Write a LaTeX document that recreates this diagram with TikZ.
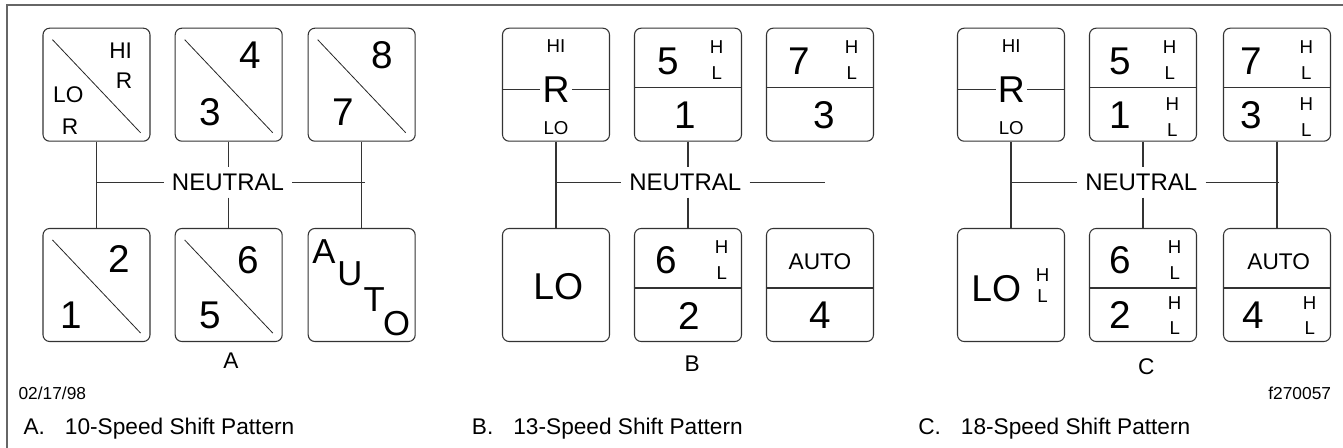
\documentclass[tikz,border=0pt]{standalone}
\usepackage{fontspec}
\setmainfont{Liberation Sans}
\usetikzlibrary{calc}

\begin{document}
\begin{tikzpicture}[x=0.75pt, y=-0.75pt,
    every node/.style={inner sep=0pt, text=black},
    frame/.style={draw=black!60, line width=1.6pt},
    key/.style={rectangle, draw=black!80, rounded corners=5pt, line width=0.8pt,
                minimum width=80.25pt, minimum height=84.75pt},
    wire/.style={draw=black!80, line width=0.8pt},
    slash/.style={draw=black!85, line width=0.6pt},
    num/.style={font=\fontsize{29}{29}\selectfont},
    big/.style={font=\fontsize{28}{28}\selectfont},
    mid/.style={font=\fontsize{17}{17}\selectfont},
    small/.style={font=\fontsize{14}{14}\selectfont},
    hl/.style={font=\fontsize{14}{14}\selectfont},
    auto/.style={font=\fontsize{26}{26}\selectfont},
    neutral/.style={font=\fontsize{18}{18}\selectfont, inner xsep=6pt, inner ysep=5pt},
    panel/.style={font=\fontsize{17}{17}\selectfont},
    note/.style={font=\fontsize{13}{13}\selectfont},
    caption/.style={font=\fontsize{17}{17}\selectfont, anchor=base west},
]
\useasboundingbox (0,0) rectangle (1343,448);

% frame, top and left only
\draw[frame] (7,448) -- (7,5) -- (1343,5);

% shift knob positions: A = 10-speed, B = 13-speed, C = 18-speed
\foreach \n/\x/\y in {aT1/96.5/84.7, aT2/228.7/84.7, aT3/361.7/84.7,
                      aB1/96.5/285, aB2/228.7/285, aB3/361.7/285,
                      bT1/556/84.7, bT2/688/84.7, bT3/820/84.7,
                      bB1/556/285, bB2/688/285, bB3/820/285,
                      cT1/1011/84.7, cT2/1143/84.7, cT3/1277/84.7,
                      cB1/1011/285, cB2/1143/285, cB3/1277/285}{
    \node[key] (\n) at (\x,\y) {};
}

% split boxes
\foreach \n in {aT1, aT2, aT3, aB1, aB2}{
    \draw[slash] ([shift={(10,12)}]\n.north west) -- ([shift={(-10,-9)}]\n.south east);
}
\foreach \n in {bT2, bT3, bB2, bB3, cT2, cT3, cB2, cB3}{
    \draw[wire] ($(\n.west)+(0,3)$) -- ($(\n.east)+(0,3)$);
}

% --- A ---
\node[mid] (aHI) at (120.7,50.7) {HI};
\node[mid] (aRh) at (124,81) {R};
\node[mid] (aLO) at (68.3,94.3) {LO};
\node[mid] (aRl) at (70,126.7) {R};
\foreach \n/\x/\y/\t in {a4/250.7/55/4, a3/210/112.3/3, a8/382.3/55/8, a7/343.3/112.3/7,
                         a2/119.3/259.3/2, a1/71.7/315/1, a6/248.3/260/6, a5/210/315/5}{
    \node[num] (\n) at (\x,\y) {\t};
}
\foreach \n/\x/\y/\t in {autoA/324/251.7/A, autoU/350/273.3/U, autoT/374.3/300/T, autoO/396.7/323.3/O}{
    \node[auto] (\n) at (\x,\y) {\t};
}

\node[neutral] (nA) at (228,182.3) {NEUTRAL};
\draw[wire] (aT1.south) -- (aB1.north);
\draw[wire] (aT3.south) -- (aB3.north);
\draw[wire] (aT2.south) -- (aT2.south |- nA.north);
\draw[wire] (aB2.north |- nA.south) -- (aB2.north);
\draw[wire] (aT1.south |- nA) -- (nA.west);
\draw[wire] (nA.east) -- ($(aT3.south |- nA)+(3,0)$);

% --- B ---
\node[small] (bHI) at (556,45.7) {HI};
\node[big, inner xsep=1.5pt] (bR) at (556,89.3) {R};
\node[small] (bLO) at (556,128.3) {LO};
\draw[wire] (bT1.west |- bR) -- (bR.west);
\draw[wire] (bR.east) -- (bT1.east |- bR);
\foreach \n/\x/\y/\t in {b5/668.3/61.7/5, b1/685/115/1, b7/799.3/61.7/7, b3/824/115/3,
                         b6/666/260/6, b2/689.3/316/2, b4/820.7/315/4}{
    \node[num] (\n) at (\x,\y) {\t};
}
\node[big] (bLOw) at (558.3,286.7) {LO};
\node[mid] (bAUTO) at (820,261.7) {AUTO};

\node[neutral] (nB) at (685.3,182.3) {NEUTRAL};
\coordinate (bEnd) at (825,182.3);
\draw[wire] (bT1.south) -- (bB1.north);
\draw[wire] (bT2.south) -- (bT2.south |- nB.north);
\draw[wire] (bB2.north |- nB.south) -- (bB2.north);
\draw[wire] (bT1.south |- nB) -- (nB.west);
\draw[wire] (nB.east) -- (bEnd);

% --- C ---
\node[small] (cHI) at (1011.3,45.7) {HI};
\node[big, inner xsep=1.5pt] (cR) at (1011.3,89.3) {R};
\node[small] (cLO) at (1011.3,128.3) {LO};
\draw[wire] (cT1.west |- cR) -- (cR.west);
\draw[wire] (cR.east) -- (cT1.east |- cR);
\foreach \n/\x/\y/\t in {c5/1120.7/61.7/5, c1/1120.7/115/1, c7/1251.3/61.7/7, c3/1251.3/115/3,
                         c6/1120.7/260/6, c2/1120.7/315/2, c4/1253/315/4}{
    \node[num] (\n) at (\x,\y) {\t};
}
\node[big] (cLOw) at (996.3,288.3) {LO};
\node[mid] (cAUTO) at (1278.7,261.7) {AUTO};

\node[neutral] (nC) at (1141.3,182.3) {NEUTRAL};
\draw[wire] (cT1.south) -- (cB1.north);
\draw[wire] (cT3.south) -- (cB3.north);
\draw[wire] (cT2.south) -- (cT2.south |- nC.north);
\draw[wire] (cB2.north |- nC.south) -- (cB2.north);
\draw[wire] (cT1.south |- nC) -- (nC.west);
\draw[wire] (nC.east) -- ($(cT3.south |- nC)+(2,0)$);

% range marks H / L
\foreach \x/\yh/\yl [count=\i] in {716.7/46.7/72.7, 851.7/46.7/72.7, 721.7/247.3/273.3,
        1169.7/46.7/72.7, 1172.3/104.3/130, 1306.3/46.7/72.7, 1306.3/104.3/130,
        1042.5/275/296, 1174.7/246.7/272.7, 1174.7/302.7/328.3, 1309.7/302.7/328.3}{
    \node[hl] (rngH\i) at (\x,\yh) {H};
    \node[hl] (rngL\i) at (\x,\yl) {L};
}

% panel letters and notes
\node[panel] (pA) at (231,360.3) {A};
\node[panel] (pB) at (692.3,363.7) {B};
\node[panel] (pC) at (1146.3,366.7) {C};
\node[note, anchor=west] (date) at (18.3,393.3) {02/17/98};
\node[note, anchor=east] (fig) at (1331.3,393.3) {f270057};

\node[caption] (capA) at (23.3,435) {A.\hspace{15pt}10-Speed Shift Pattern};
\node[caption] (capB) at (471.7,435) {B.\hspace{15pt}13-Speed Shift Pattern};
\node[caption] (capC) at (918,435) {C.\hspace{15pt}18-Speed Shift Pattern};
\end{tikzpicture}
\end{document}
